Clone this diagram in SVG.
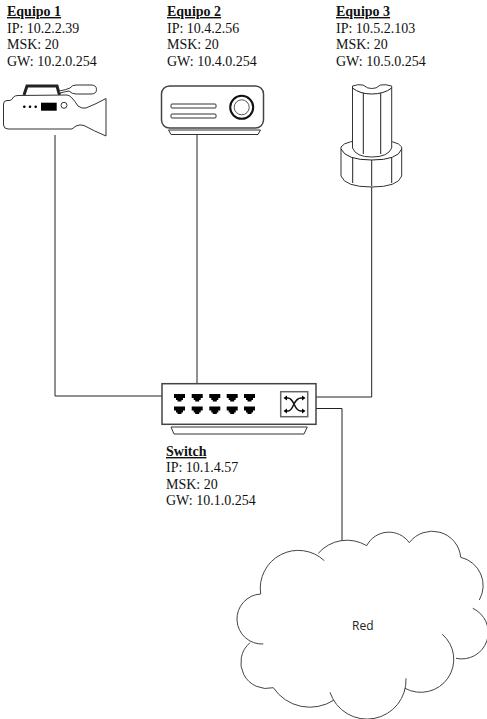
<svg xmlns="http://www.w3.org/2000/svg" width="487" height="719" viewBox="0 0 487 719">
<style>
.t{font-family:"Liberation Serif","Times New Roman",serif;font-size:14px;fill:#111}
.h{font-weight:bold;text-decoration:underline}
.l{fill:none;stroke:#222;stroke-width:1}
.s{fill:#fff;stroke:#333;stroke-width:1}
.m{fill:#fff;stroke:#444;stroke-width:1.5}
.k{fill:#000}
</style>
<defs>
<path id="port" d="M0,0H11V4H9V6H7.500V7.500H3.500V6H2V4H0Z" class="k"/>
</defs>
<rect width="487" height="719" fill="#fff"/>
<g id="connectors" class="l">
<path d="M55,135V396H162"/>
<path d="M197,134V384"/>
<path d="M371.700,186V397H316"/>
<path d="M316,408.500H342V541"/>
</g>
<g id="equipo1">
<path d="M24,95L27,86H57L59.500,95" fill="none" stroke="#222" stroke-width="3"/>
<path d="M59,91Q66,90 70,88Q72,85 76,85H91Q96.500,85 96.500,89.500Q96.500,94 91,94H76Q72,94 69,91Q64,92 60,93Z" class="s"/>
<path d="M13.500,97Q15,95.500 18,95.500L67,95Q71,95 78,106Q82,109 86,108Q96,104 106,98.500V136Q94,131 84,125.500Q80,124 76,126L72,129H8Q4,129 3.500,125V104Q3.500,100.500 7,100.500H10Q12,100 13.500,97Z" class="s"/>
<circle cx="24.300" cy="106.700" r="1.300" class="k"/><circle cx="30" cy="106.700" r="1.300" class="k"/><circle cx="35.700" cy="106.700" r="1.300" class="k"/>
<rect x="41" y="102.700" width="15.700" height="8" class="k"/>
<circle cx="64" cy="105.300" r="3" fill="#fff" stroke="#333"/>
<text class="t h" x="7" y="16">Equipo 1</text>
<text class="t" x="7" y="33">IP: 10.2.2.39</text>
<text class="t" x="7" y="49">MSK: 20</text>
<text class="t" x="7" y="66">GW: 10.2.0.254</text>
</g>
<g id="equipo2">
<rect x="161.500" y="86" width="102" height="42" rx="8" class="m"/>
<path d="M168.500,130H260.500L258,134.500H171Z" class="s"/>
<rect x="171" y="104" width="45" height="4" rx="1" class="s"/>
<rect x="171" y="114" width="45" height="4" rx="1" class="s"/>
<circle cx="241.700" cy="107.300" r="11.500" fill="#fff" stroke="#111" stroke-width="2"/>
<circle cx="241.700" cy="107.300" r="7.500" fill="#fff" stroke="#555"/>
<text class="t h" x="167" y="16">Equipo 2</text>
<text class="t" x="167" y="33">IP: 10.4.2.56</text>
<text class="t" x="167" y="49">MSK: 20</text>
<text class="t" x="167" y="66">GW: 10.4.0.254</text>
</g>
<g id="equipo3">
<path d="M341,147V176Q345,187 371.700,187Q398,187 401.700,176V147Q398,140 371.700,140Q345,140 341,147Z" class="s"/>
<path d="M341,149Q346,160 371.700,160Q398,160 401.700,149M352.700,158V183M371.700,160V186M391.700,158V183" class="l"/>
<path d="M352.500,86Q358,84 363,85Q368,89 371.700,88.500Q376,89 380.500,85Q386,84 391.700,86V148Q388,157 371.700,157Q356,157 352.500,148Z" class="s"/>
<path d="M352.500,88Q360,94 371.700,94Q384,94 391.700,88M363.300,93V154M380.700,93V154" class="l"/>
<text class="t h" x="336" y="16">Equipo 3</text>
<text class="t" x="336" y="33">IP: 10.5.2.103</text>
<text class="t" x="336" y="49">MSK: 20</text>
<text class="t" x="336" y="66">GW: 10.5.0.254</text>
</g>
<g id="switch">
<rect x="162" y="383.700" width="154" height="40.600" class="m"/>
<path d="M171,427H307.300L304,434H174Z" class="s"/>
<use href="#port" x="174" y="394"/><use href="#port" x="191.700" y="394"/><use href="#port" x="209.300" y="394"/><use href="#port" x="226.700" y="394"/><use href="#port" x="244" y="394"/>
<use href="#port" x="174" y="406.500"/><use href="#port" x="191.700" y="406.500"/><use href="#port" x="209.300" y="406.500"/><use href="#port" x="226.700" y="406.500"/><use href="#port" x="244" y="406.500"/>
<rect x="280.700" y="391.700" width="27" height="25" fill="#fff" stroke="#666" stroke-width="1.500"/>
<path d="M285,398H288Q291,398 294,404Q297,411 301,411H304M285,411H288Q291,411 294,404Q297,398 301,398H304" fill="none" stroke="#111" stroke-width="1.500"/>
<path d="M283.500,398L287,395.500V400.500ZM305.500,398L302,395.500V400.500ZM283.500,411L287,408.500V413.500ZM305.500,411L302,408.500V413.500Z" class="k"/>
<text class="t h" x="166" y="456">Switch</text>
<text class="t" x="166" y="472">IP: 10.1.4.57</text>
<text class="t" x="166" y="489">MSK: 20</text>
<text class="t" x="166" y="505">GW: 10.1.0.254</text>
</g>
<g id="red">
<path d="M260.700,594A38,38 0 0 1 324.300,560.700M318.300,553.300A38,38 0 0 1 366.700,545.700A25,25 0 0 1 409.300,542.700A28.600,28.600 0 0 1 460.700,557.300A29,29 0 0 1 479.300,600M472.700,608.300A26.500,26.500 0 0 1 456,658.300M442.300,634.300A33,33 0 0 1 405,688.300M406,678.300A39,39 0 0 1 330,692.300M334,700A44,44 0 0 1 273.300,687.700A26,26 0 0 1 250,642.700M263.300,644A25,25 0 0 1 260.700,594" fill="none" stroke="#444" stroke-width="1"/>
<text x="352" y="630" font-family="'Open Sans','Liberation Sans',sans-serif" font-size="12" fill="#222">Red</text>
</g>
</svg>
